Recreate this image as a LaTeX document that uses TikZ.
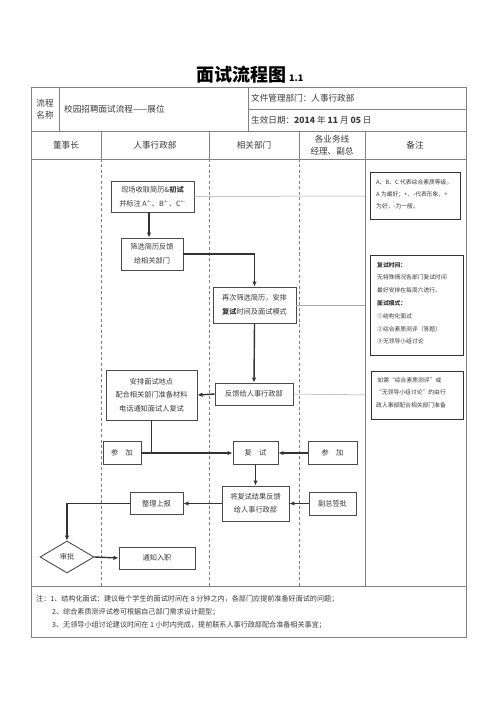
\documentclass[tikz,border=0pt]{standalone}
\usepackage{fontspec}
\setmainfont{Noto Sans CJK SC}
\usetikzlibrary{arrows.meta,shapes.geometric}
\definecolor{tline}{HTML}{808080}
\definecolor{bline}{HTML}{4A4A4A}
\definecolor{fline}{HTML}{333333}
\definecolor{txt}{HTML}{3A3A3A}
\tikzset{
  x=1pt,y=-1pt,
  tbl/.style={draw=tline,line width=0.8pt},
  lane/.style={draw=tline,line width=0.7pt,dash pattern=on 3pt off 2.5pt},
  boxn/.style={draw=bline,line width=0.9pt,rectangle,inner sep=0pt,align=center,text=txt,font=\fontsize{7.2}{13.5}\selectfont},
  notebox/.style={draw=fline,line width=1pt,rectangle,inner sep=0pt,text=txt,font=\fontsize{5.8}{12.5}\selectfont},
  flow/.style={draw=fline,line width=1.4pt,-{Latex[length=5pt,width=4.5pt]}},
  flowline/.style={draw=fline,line width=1.4pt},
  thin/.style={draw=tline!70,line width=0.5pt},
  hdr/.style={text=txt,inner sep=0pt,font=\fontsize{8.6}{12}\selectfont},
  foot/.style={text=txt,inner sep=0pt,anchor=west,font=\fontsize{7.1}{9}\selectfont}
}
\begin{document}
\begin{tikzpicture}
\useasboundingbox[fill=white] (0,0) rectangle (500,708);
% title
\node[anchor=west,inner sep=0pt,text=black] (title) at (196,75) {\fontsize{18}{20}\selectfont\bfseries 面试流程图\,{\fontsize{9}{9}\selectfont 1.1}};
% table
\draw[tbl] (31,87) rectangle (466,637);
\draw[tbl] (31,131) -- (466,131);
\draw[tbl] (31,159) -- (466,159);
\draw[tbl] (31,586) -- (466,586);
\draw[tbl] (248,109) -- (466,109);
\draw[tbl] (59,87) -- (59,131);
\draw[tbl] (248,87) -- (248,131);
\foreach \xx in {101,209,299,365} \draw[tbl] (\xx,131) -- (\xx,159);
\foreach \xx in {101,209,299} \draw[lane] (\xx,159) -- (\xx,586);
\draw[tbl] (365,159) -- (365,586);
% header texts
\node[hdr,align=center,font=\fontsize{8.6}{12}\selectfont] (h1) at (45,109) {流程\\名称};
\node[hdr,anchor=west] (h2) at (64,109) {校园招聘面试流程——展位};
\node[hdr,anchor=west] (h3) at (251,98) {文件管理部门：人事行政部};
\node[hdr,anchor=west] (h4) at (251,120) {生效日期：\textbf{2014} 年 \textbf{11} 月 \textbf{05} 日};
\node[hdr] (c1) at (66,145) {董事长};
\node[hdr] (c2) at (155,145) {人事行政部};
\node[hdr] (c3) at (254,145) {相关部门};
\node[hdr,align=center] (c4) at (332,145) {各业务线\\经理、副总};
\node[hdr] (c5) at (415,145) {备注};
% boxes
\node[boxn,minimum width=83,minimum height=31] (b1) at (152.5,196.5) {现场收取简历\&\textbf{初试}\\并标注 A\textsuperscript{+-}、B\textsuperscript{+-}、C\textsuperscript{+-}};
\node[boxn,minimum width=62,minimum height=32] (b2) at (152,254) {筛选简历反馈\\给相关部门};
\node[boxn,minimum width=83,minimum height=36] (b3) at (254.5,305) {再次筛选简历，安排\\\textbf{复试}时间及面试模式};
\node[boxn,minimum width=78,minimum height=22] (b4) at (254,394) {反馈给人事行政部};
\node[boxn,minimum width=91,minimum height=50] (b5) at (151.5,395) {安排面试地点\\配合相关部门准备材料\\电话通知面试人复试};
\node[boxn,minimum width=38,minimum height=23] (b6) at (122,453) {参\quad 加};
\node[boxn,minimum width=45,minimum height=23] (b7) at (255.5,453) {复\quad 试};
\node[boxn,minimum width=49,minimum height=23] (b8) at (332.5,453) {参\quad 加};
\node[boxn,minimum width=67,minimum height=35] (b9) at (255.5,503.5) {将复试结果反馈\\给人事行政部};
\node[boxn,minimum width=47,minimum height=23] (b10) at (332.5,503.5) {副总签批};
\node[boxn,minimum width=53,minimum height=22] (b11) at (156.5,503.5) {整理上报};
\node[boxn,diamond,minimum width=54,minimum height=32,aspect=1.7] (d1) at (67,557) {审批};
\node[boxn,minimum width=76,minimum height=22] (b12) at (157,558) {通知入职};
% notes
\node[notebox,minimum width=90,minimum height=47] (n1) at (415,196.5) {};
\node[anchor=north west,inner sep=0pt,text=txt,align=left,font=\fontsize{5.8}{12}\selectfont] (n1t) at (376,179.5) {A、B、C 代表综合素质等级，\\A 为最好；+、-代表形象，+\\为好，-为一般。};
\node[notebox,minimum width=93,minimum height=100] (n2) at (416.5,305) {};
\node[anchor=north west,inner sep=0pt,text=txt,align=left,font=\fontsize{5.8}{12.8}\selectfont] (n2t) at (377,262) {\textbf{复试时间：}\\无特殊情况各部门复试时间\\最好安排在每周六进行。\\\textbf{面试模式：}\\①结构化面试\\②综合素质测评（答题）\\③无领导小组讨论};
\node[notebox,minimum width=92,minimum height=48] (n3) at (417,395) {};
\node[anchor=north west,inner sep=0pt,text=txt,align=left,font=\fontsize{5.8}{12.8}\selectfont] (n3t) at (376,377) {\ 如需“综合素质测评”或\\“无领导小组讨论”的由行\\政人事部配合相关部门准备};
% thin links to notes
\coordinate (k1) at (365,196);
\coordinate (k2) at (365,305);
\coordinate (k3) at (365,395);
\draw[thin] (b1.east) -- (k1);
\draw[thin] (b3.east) -- (k2);
\draw[thin] (b4.east) -- (k3);
% flow
\draw[flow] (b1.south -| 149,0) -- (b2.north -| 149,0);
\draw[flow] (b2.east) -| (b3.north);
\draw[flow] (b3.south) -- (b4.north);
\draw[flow] (b4.west) -- (b5.east);
\draw[flowline] (b5.south) -- (b5.south |- b6.east);
\draw[flow] (b6.east) -- (b7.west);
\draw[flow] (b8.west) -- (b7.east);
\draw[flow] (b7.south) -- (b9.north);
\draw[flow] (b10.west) -- (b9.east);
\draw[flow] (b9.west) -- (b11.east);
\draw[flow] (b11.west) -| (d1.north);
\draw[flow] (d1.east) -- (b12.west);
% footnotes
\node[foot] (f1) at (36,599) {注：1、结构化面试：建议每个学生的面试时间在 8 分钟之内，各部门应提前准备好面试的问题；};
\node[foot] (f2) at (52,612) {2、综合素质测评试卷可根据自己部门需求设计题型；};
\node[foot] (f3) at (52,625) {3、无领导小组讨论建议时间在 1 小时内完成，提前联系人事行政部配合准备相关事宜；};
\end{tikzpicture}
\end{document}
